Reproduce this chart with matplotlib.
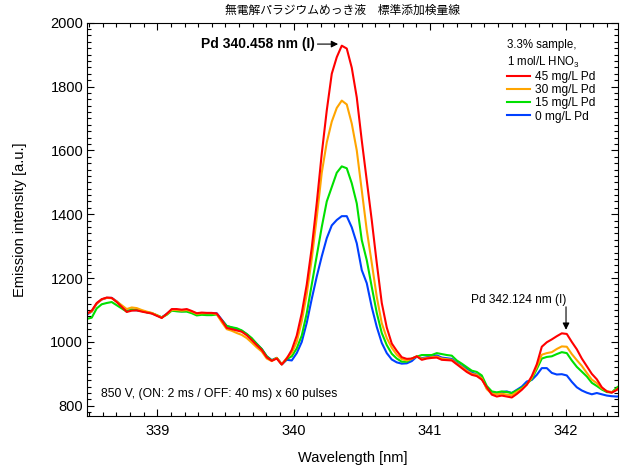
import numpy as np
import matplotlib
matplotlib.use('Agg')
import matplotlib.pyplot as plt

plt.rcParams['font.family'] = ['Liberation Sans', 'DejaVu Sans']
plt.rcParams['mathtext.default'] = 'regular'

# spectra (uniform wavelength step)
wl_start = 338.4816
wl_step = 0.03671

i45 = [1088, 1098, 1122, 1134, 1139, 1138, 1125, 1110, 1094, 1098,
       1099, 1095, 1092, 1089, 1082, 1075, 1088, 1103, 1103, 1101,
       1103, 1097, 1090, 1092, 1091, 1091, 1089, 1068, 1044, 1040,
       1036, 1032, 1021, 1006, 990, 975, 952, 941, 948, 929,
       948,
       975, 1020, 1090, 1180, 1295, 1435, 1590, 1725, 1840, 1892,
       1928, 1919, 1859, 1766, 1631, 1506, 1381, 1247, 1122, 1045,
       995, 972, 952,
       947, 948, 955, 944, 948, 950, 951, 944, 943, 942,
       930, 918, 906, 897, 893, 882, 858, 835, 829, 832,
       829, 826, 837, 850, 866, 893, 930, 985, 999, 1008,
       1018, 1027, 1025, 1000, 977, 948, 924, 900, 883, 858,
       845, 841, 850, 866]

i30 = [1088, 1095, 1120, 1133, 1138, 1137, 1127, 1115, 1103, 1108,
       1106, 1100, 1095, 1091, 1084, 1076, 1087, 1100, 1100, 1098,
       1100, 1095, 1088, 1090, 1090, 1090, 1087, 1062, 1040, 1035,
       1028, 1022, 1012, 998, 983, 970, 948, 940, 950, 930,
       950,
       965, 1000, 1065, 1150, 1260, 1390, 1530, 1625, 1690, 1733,
       1756, 1744, 1684, 1600, 1475, 1350, 1247, 1141, 1059, 1012,
       982, 960, 946,
       942, 947, 955, 947, 950, 952, 954, 948, 946, 944,
       932, 922, 910, 900, 897, 886, 852, 838, 836, 838,
       835, 833, 843, 853, 867, 888, 922, 960, 965, 968,
       978, 986, 985, 962, 943, 925, 903, 882, 871, 855,
       846, 843, 850, 865]

i15 = [1072, 1076, 1105, 1118, 1122, 1125, 1115, 1105, 1095, 1102,
       1100, 1097, 1093, 1090, 1084, 1077, 1085, 1098, 1096, 1095,
       1095, 1090, 1083, 1085, 1084, 1084, 1086, 1068, 1050, 1046,
       1043, 1036, 1025, 1012, 994, 978, 955, 942, 950, 930,
       946,
       955, 980, 1020, 1090, 1180, 1270, 1360, 1440, 1485, 1530,
       1550, 1544, 1497, 1434, 1319, 1256, 1172, 1091, 1028, 990,
       963, 948, 938,
       938, 948, 954, 959, 959, 959, 965, 962, 959, 957,
       942, 932, 921, 910, 906, 895, 862, 845, 842, 845,
       843, 840, 848, 856, 868, 884, 915, 948, 953, 955,
       962, 968, 965, 942, 922, 907, 892, 872, 862, 851,
       843, 842, 857, 868]

i0 = [1085, 1095, 1120, 1133, 1138, 1138, 1127, 1113, 1098, 1100,
      1099, 1097, 1093, 1090, 1083, 1077, 1088, 1100, 1097, 1096,
      1097, 1093, 1087, 1090, 1089, 1090, 1090, 1070, 1050, 1045,
      1040, 1035, 1024, 1010, 994, 978, 955, 943, 950, 930,
      944,
      942, 965, 1000, 1060, 1135, 1205, 1268, 1325, 1365, 1382,
      1394, 1394, 1359, 1309, 1225, 1184, 1109, 1047, 997, 965,
      945, 936, 932,
      933, 940, 954, 949, 952, 954, 958, 951, 949, 947,
      935, 925, 915, 904, 898, 889, 855, 842, 840, 843,
      845, 840, 850, 860, 876, 881, 897, 918, 918, 903,
      898, 899, 895, 875, 858, 848, 841, 836, 840, 836,
      832, 830, 829, 830]

labels = ['45 mg/L Pd', '30 mg/L Pd', '15 mg/L Pd', '0 mg/L Pd']
colors = ['#ff0000', '#ffa500', '#00e000', '#0040ff']

wl = wl_start + wl_step * np.arange(len(i45))

fig = plt.figure(figsize=(6.21, 4.68), dpi=100)
ax = fig.add_axes([0.1406, 0.1111, 0.8551, 0.8404])

# draw blue first so red ends on top
series = [i45, i30, i15, i0]
handles = [None] * 4
for k in [3, 2, 1, 0]:
    handles[k], = ax.plot(wl, series[k], color=colors[k], lw=1.5)

ax.set_xlim(338.486, 342.384)
ax.set_ylim(768, 2000)
ax.set_xticks([339, 340, 341, 342])
ax.set_yticks([800, 1000, 1200, 1400, 1600, 1800, 2000])
ax.xaxis.set_minor_locator(matplotlib.ticker.MultipleLocator(0.1))
ax.yaxis.set_minor_locator(matplotlib.ticker.MultipleLocator(20))
ax.tick_params(which='both', direction='in', top=True, right=True, width=0.8)
ax.tick_params(which='major', length=5, labelsize=10.5)
ax.tick_params(which='minor', length=3)
ax.tick_params(axis='x', pad=6)
ax.tick_params(axis='y', pad=3)

ax.set_xlabel('Wavelength [nm]', fontsize=10.5)
ax.set_ylabel('Emission intensity [a.u.]', fontsize=10.5)
ax.xaxis.set_label_coords(0.5, -0.088)
ax.yaxis.set_label_coords(-0.113, 0.5)

fig.text(0.552, 0.979, '無電解パラジウムめっき液　標準添加検量線',
         family=['Noto Sans CJK JP', 'DejaVu Sans'], fontsize=8.5,
         ha='center', va='center')

leg = ax.legend(handles, labels, title='3.3% sample,\n1 mol/L HNO$_3$',
                loc='upper left', bbox_to_anchor=(0.79, 0.958),
                frameon=False, fontsize=8.6, title_fontsize=8.3,
                handlelength=1.9, handletextpad=0.45, labelspacing=0.1,
                borderpad=0, borderaxespad=0, alignment='left')
leg.get_title().set_multialignment('left')
leg.get_title().set_linespacing(1.3)
leg._legend_box.sep = 1

ax.annotate('Pd 340.458 nm (I)', xy=(340.327, 1933), xytext=(340.155, 1933),
            ha='right', va='center', fontsize=10, fontweight='bold',
            arrowprops=dict(arrowstyle='-|>', color='k', lw=0.8,
                            shrinkA=0, shrinkB=0, mutation_scale=10))

ax.text(342.0, 1132, 'Pd 342.124 nm (I)', ha='right', va='center', fontsize=8.6)
ax.annotate('', xy=(342.0, 1038), xytext=(342.0, 1110),
            arrowprops=dict(arrowstyle='-|>', color='k', lw=0.8,
                            shrinkA=0, shrinkB=0, mutation_scale=10))

ax.text(338.584, 837, '850 V, (ON: 2 ms / OFF: 40 ms) x 60 pulses',
        ha='left', va='center', fontsize=8.7)

plt.savefig('out.png', dpi=100)
